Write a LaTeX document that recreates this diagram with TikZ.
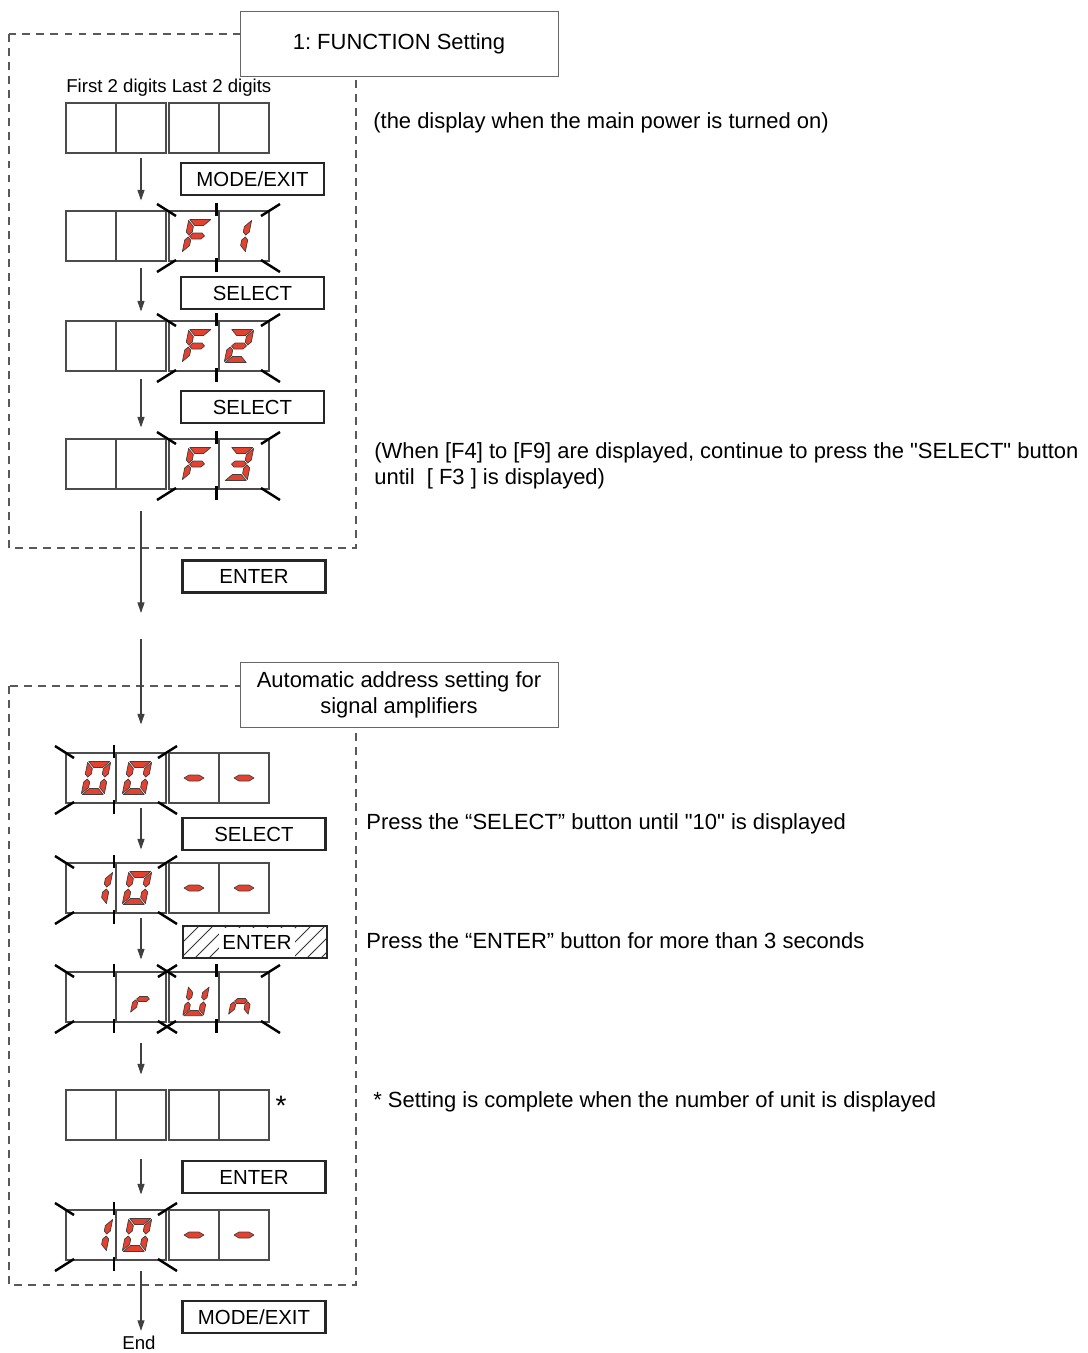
\documentclass[tikz,border=0pt]{standalone}
\usepackage{fontspec}
\setmainfont{Liberation Sans}[Ligatures=TeXOff]
\usetikzlibrary{arrows.meta}
\definecolor{segred}{RGB}{228,65,47}

\tikzset{
  cell/.style={draw=black!70, line width=0.6pt, minimum width=1cm, minimum height=1cm, inner sep=0pt},
  btn/.style={draw=black!85, line width=1.2pt, minimum width=2.86cm, minimum height=0.64cm, inner sep=0pt, font=\fontsize{11.6}{13}\selectfont},
  titlebox/.style={draw=black!60, line width=0.5pt, fill=white, minimum width=6.36cm, minimum height=1.3cm, align=center, font=\fontsize{12.5}{14.7}\selectfont},
  frame/.style={draw=black!65, line width=0.6pt, dash pattern=on 4.5pt off 3.5pt},
  arr/.style={draw=black!75, line width=0.6pt, -{Triangle[length=6pt,width=4pt]}},
  blinkmark/.style={draw=black, line width=1.4pt},
  segment/.style={fill=segred, draw=black!75, line width=0.4pt, line join=round},
  hatch/.style={draw=black!80, line width=0.5pt},
  note/.style={anchor=west, inner sep=0pt, font=\fontsize{12.5}{14.7}\selectfont},
  small/.style={inner sep=0pt, font=\fontsize{10.6}{12.5}\selectfont}
}

\newcommand\segA{\filldraw[segment] (-10.5,-16.5) -- (10.5,-16.5) -- (4.5,-10.5) -- (-4.5,-10.5) -- cycle;}
\newcommand\segD{\filldraw[segment] (-10.5,16.5) -- (10.5,16.5) -- (4.5,10.5) -- (-4.5,10.5) -- cycle;}
\newcommand\segF{\filldraw[segment] (-11.5,-15.5) -- (-5.5,-9.5) -- (-5.5,-4) -- (-8.5,-1) -- (-11.5,-4) -- cycle;}
\newcommand\segE{\filldraw[segment] (-11.5,15.5) -- (-5.5,9.5) -- (-5.5,4) -- (-8.5,1) -- (-11.5,4) -- cycle;}
\newcommand\segB{\filldraw[segment] (11.5,-15.5) -- (5.5,-9.5) -- (5.5,-4) -- (8.5,-1) -- (11.5,-4) -- cycle;}
\newcommand\segC{\filldraw[segment] (11.5,15.5) -- (5.5,9.5) -- (5.5,4) -- (8.5,1) -- (11.5,4) -- cycle;}
\newcommand\segG{\filldraw[segment] (-7.5,0) -- (-4.5,-3) -- (4.5,-3) -- (7.5,0) -- (4.5,3) -- (-4.5,3) -- cycle;}
\newcommand\sdigit[4][1]{\begin{scope}[shift={(#2,#3)}, xslant=0.2, scale=#1]
  \foreach \s in {#4} {\csname seg\s\endcsname}
  \end{scope}}
\newcommand\sdash[2]{\filldraw[segment] (#1-10,#2) -- (#1-5,#2-3) -- (#1+5,#2-3) -- (#1+10,#2) -- (#1+5,#2+3) -- (#1-5,#2+3) -- cycle;}
\newcommand\blink[4]{%
  \draw[blinkmark] (#1-11,#3-7) -- (#1+8,#3+5);
  \draw[blinkmark] (#2+11,#3-7) -- (#2-8,#3+5);
  \draw[blinkmark] (#1-11,#4+11) -- (#1+8,#4-1);
  \draw[blinkmark] (#2+11,#4+11) -- (#2-8,#4-1);
  \draw[blinkmark] ({(#1+#2)/2-2},#3-8) -- ({(#1+#2)/2-2},#3+5);
  \draw[blinkmark] ({(#1+#2)/2-2},#4-3) -- ({(#1+#2)/2-2},#4+11);}
\newcommand\panelrow[2]{\foreach \i/\cx in {1/91,2/141,3/194,4/244} {\node[cell] (#1-\i) at (\cx,#2) {};}}

\begin{document}
\frenchspacing
\begin{tikzpicture}[x=0.02cm, y=-0.02cm]
\useasboundingbox (0,0) rectangle (1088,1353);

% dashed frames and their titles
\draw[frame] (9,34) rectangle (356,548);
\draw[frame] (9,686) rectangle (356,1285);
\node[titlebox] (title1) at (399,43.5) {1: FUNCTION Setting};
\node[titlebox] (title2) at (399,695) {Automatic address setting for\\signal amplifiers};

\node[small, anchor=west] (digits) at (66,88) {First 2 digits Last 2 digits};

% displays
\panelrow{d1}{128}
\panelrow{d2}{236}
\sdigit{197}{236}{A,E,F,G}
\sdigit{237}{236}{B,C}
\blink{168}{269}{211}{261}
\panelrow{d3}{346}
\sdigit{197}{346}{A,E,F,G}
\sdigit{239}{346}{A,B,G,E,D}
\blink{168}{269}{321}{371}
\panelrow{d4}{464}
\sdigit{197}{464}{A,E,F,G}
\sdigit{239}{464}{A,B,G,C,D}
\blink{168}{269}{439}{489}

\panelrow{d5}{778}
\sdigit{96}{778}{A,B,C,D,E,F}
\sdigit{137}{778}{A,B,C,D,E,F}
\sdash{194}{778}
\sdash{244}{778}
\blink{66}{166}{753}{803}
\panelrow{d6}{888}
\sdigit{98}{888}{B,C}
\sdigit{137}{888}{A,B,C,D,E,F}
\sdash{194}{888}
\sdash{244}{888}
\blink{66}{166}{863}{913}
\panelrow{d7}{997}
\sdigit[0.85]{143}{999}{E,G}
\sdigit[0.9]{196}{1001}{B,C,D,E,F}
\sdigit[0.85]{241}{1001}{C,E,G}
\blink{66}{166}{972}{1022}
\blink{168}{269}{972}{1022}
\panelrow{d8}{1115}
\node[anchor=base, inner sep=0pt, font=\fontsize{16}{18}\selectfont] (star) at (281,1115) {*};
\panelrow{d9}{1235}
\sdigit{98}{1235}{B,C}
\sdigit{137}{1235}{A,B,C,D,E,F}
\sdash{194}{1235}
\sdash{244}{1235}
\blink{66}{166}{1210}{1260}

% buttons
\node[btn] (mode1) at (252.5,179) {MODE/EXIT};
\node[btn] (select1) at (252.5,293) {SELECT};
\node[btn] (select2) at (252.5,407) {SELECT};
\node[btn] (enter1) at (254,576.5) {ENTER};
\node[btn] (select3) at (254,834) {SELECT};
\begin{scope}
  \clip (183,926) rectangle (327,958);
  \foreach \hx in {153,167,...,327} \draw[hatch] (\hx,958) -- (\hx+32,926);
\end{scope}
\node[fill=white, inner xsep=2pt, minimum height=0.58cm, font=\fontsize{11.6}{13}\selectfont] (enter2t) at (257,942) {ENTER};
\node[btn, minimum width=2.88cm] (enter2) at (255,942) {};
\node[btn] (enter3) at (254,1177) {ENTER};
\node[btn] (mode2) at (254,1317) {MODE/EXIT};
\node[small] (end) at (139,1343) {End};

% arrows
\coordinate (gap1) at (141,613);
\coordinate (gap2) at (141,639);
\draw[arr, shorten <=0.08cm, shorten >=0.2cm] (d1-2) -- (d2-2);
\draw[arr, shorten <=0.12cm, shorten >=0.18cm] (d2-2) -- (d3-2);
\draw[arr, shorten <=0.14cm, shorten >=0.22cm] (d3-2) -- (d4-2);
\draw[arr, shorten <=0.42cm] (d4-2) -- (gap1);
\draw[arr, shorten >=0.56cm] (gap2) -- (d5-2);
\draw[arr, shorten <=0.08cm, shorten >=0.26cm] (d5-2) -- (d6-2);
\draw[arr, shorten <=0.08cm, shorten >=0.24cm] (d6-2) -- (d7-2);
\draw[arr, shorten <=0.4cm, shorten >=0.3cm] (d7-2) -- (d8-2);
\draw[arr, shorten <=0.36cm, shorten >=0.3cm] (d8-2) -- (d9-2);
\draw[arr, shorten <=0.2cm, shorten >=0.1cm] (d9-2) -- (d9-2 |- end.north);

% notes
\node[note] (n1) at (373,123) {(the display when the main power is turned on)};
\node[note, align=left] (n2) at (374,466) {(When [F4] to [F9] are displayed, continue to press the "SELECT" button\\until\ \ [ F3 ] is displayed)};
\node[note] (n3) at (366,824) {Press the “SELECT” button until "10" is displayed};
\node[note] (n4) at (366,941) {Press the “ENTER” button for more than 3 seconds};
\node[note] (n5) at (373,1102) {* Setting is complete when the number of unit is displayed};
\end{tikzpicture}
\end{document}
